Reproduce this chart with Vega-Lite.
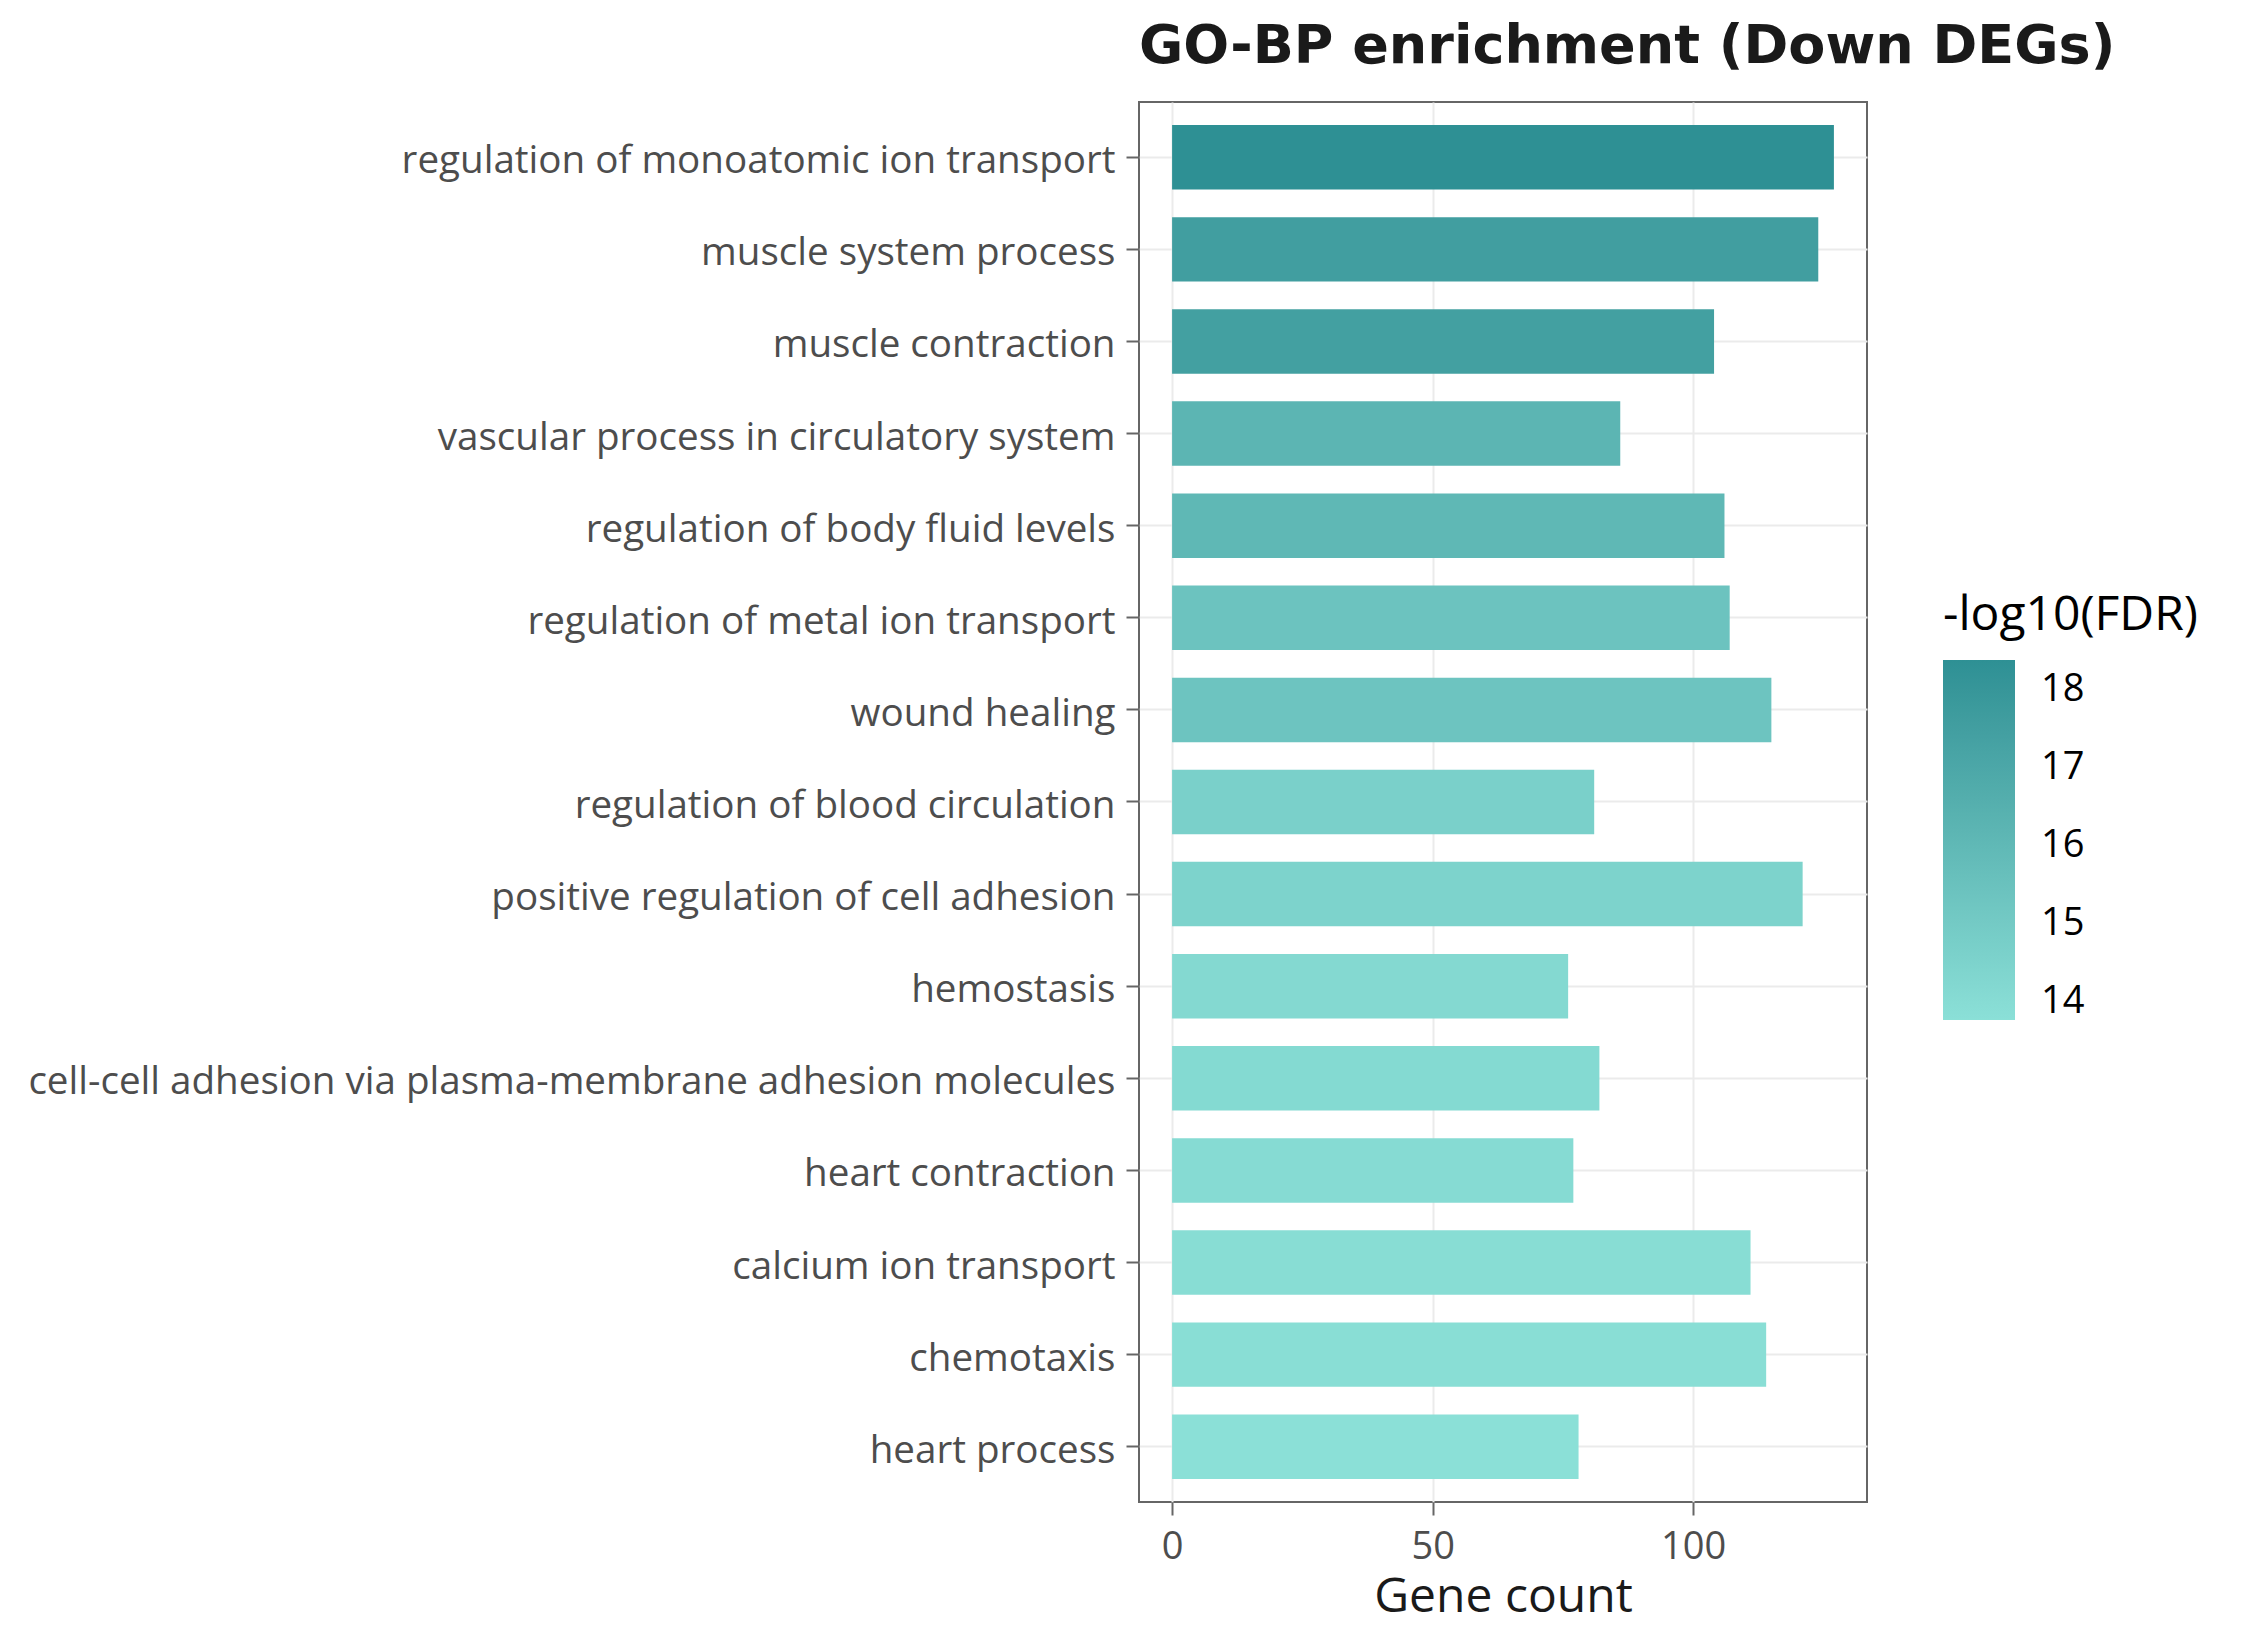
{
  "$schema": "https://vega.github.io/schema/vega-lite/v6.json",
  "autosize": "none",
  "padding": {"left": 1139, "top": 102, "right": 383, "bottom": 148},
  "width": 728,
  "height": 1400,
  "background": "white",
  "title": {
    "text": "GO-BP enrichment (Down DEGs)",
    "anchor": "start",
    "frame": "group",
    "font": "DejaVu Sans",
    "fontSize": 54,
    "fontWeight": "bold",
    "color": "#1A1A1A",
    "baseline": "alphabetic",
    "offset": -15
  },
  "data": {
    "values": [
      {"term": "regulation of monoatomic ion transport", "count": 127, "nlogfdr": 18.38},
      {"term": "muscle system process", "count": 124, "nlogfdr": 17.55},
      {"term": "muscle contraction", "count": 104, "nlogfdr": 17.45},
      {"term": "vascular process in circulatory system", "count": 86, "nlogfdr": 16.2},
      {"term": "regulation of body fluid levels", "count": 106, "nlogfdr": 16.05},
      {"term": "regulation of metal ion transport", "count": 107, "nlogfdr": 15.38},
      {"term": "wound healing", "count": 115, "nlogfdr": 15.35},
      {"term": "regulation of blood circulation", "count": 81, "nlogfdr": 14.65},
      {"term": "positive regulation of cell adhesion", "count": 121, "nlogfdr": 14.5},
      {"term": "hemostasis", "count": 76, "nlogfdr": 14.15},
      {"term": "cell-cell adhesion via plasma-membrane adhesion molecules", "count": 82, "nlogfdr": 14.12},
      {"term": "heart contraction", "count": 77, "nlogfdr": 14.05},
      {"term": "calcium ion transport", "count": 111, "nlogfdr": 13.95},
      {"term": "chemotaxis", "count": 114, "nlogfdr": 13.88},
      {"term": "heart process", "count": 78, "nlogfdr": 13.77}
    ]
  },
  "mark": {"type": "bar"},
  "encoding": {
    "y": {
      "field": "term",
      "type": "nominal",
      "sort": null,
      "scale": {"paddingInner": 0.3, "paddingOuter": 0.25},
      "axis": {
        "title": null,
        "bandPosition": 0.5,
        "labelFont": "Open Sans",
        "labelFontSize": 38.6,
        "labelColor": "#4D4D4D",
        "labelPadding": 11,
        "labelOffset": 4,
        "labelLimit": 2000,
        "tickSize": 13,
        "tickWidth": 2,
        "tickColor": "#666666",
        "domain": false,
        "grid": true,
        "gridColor": "#EBEBEB",
        "gridWidth": 2
      }
    },
    "x": {
      "field": "count",
      "type": "quantitative",
      "scale": {"domain": [-6.35, 133.35], "nice": false, "zero": false},
      "axis": {
        "title": "Gene count",
        "titleFont": "Open Sans",
        "titleFontSize": 48,
        "titleFontWeight": "normal",
        "titleColor": "#1A1A1A",
        "titlePadding": 7,
        "values": [0, 50, 100],
        "labelFont": "Open Sans",
        "labelFontSize": 38,
        "labelColor": "#4D4D4D",
        "labelPadding": 13,
        "tickSize": 13,
        "tickWidth": 2,
        "tickColor": "#666666",
        "domain": false,
        "grid": true,
        "gridColor": "#EBEBEB",
        "gridWidth": 2
      }
    },
    "x2": {"datum": 0},
    "color": {
      "field": "nlogfdr",
      "type": "quantitative",
      "scale": {
        "domain": [13.77, 18.38],
        "range": ["#8BE0D7", "#2E9094"],
        "interpolate": "lab",
        "nice": false,
        "zero": false
      },
      "legend": {
        "title": "-log10(FDR)",
        "orient": "none",
        "legendX": 804,
        "legendY": 490,
        "direction": "vertical",
        "gradientLength": 360,
        "gradientThickness": 72,
        "gradientStrokeWidth": 0,
        "values": [14, 15, 16, 17, 18],
        "titleFont": "Open Sans",
        "titleFontSize": 48,
        "titleFontWeight": "normal",
        "titleColor": "#000000",
        "titlePadding": 20,
        "titleLimit": 1000,
        "labelFont": "Open Sans",
        "labelFontSize": 38,
        "labelColor": "#000000",
        "labelOffset": 26
      }
    }
  },
  "config": {
    "view": {"stroke": "#666666", "strokeWidth": 2}
  }
}
